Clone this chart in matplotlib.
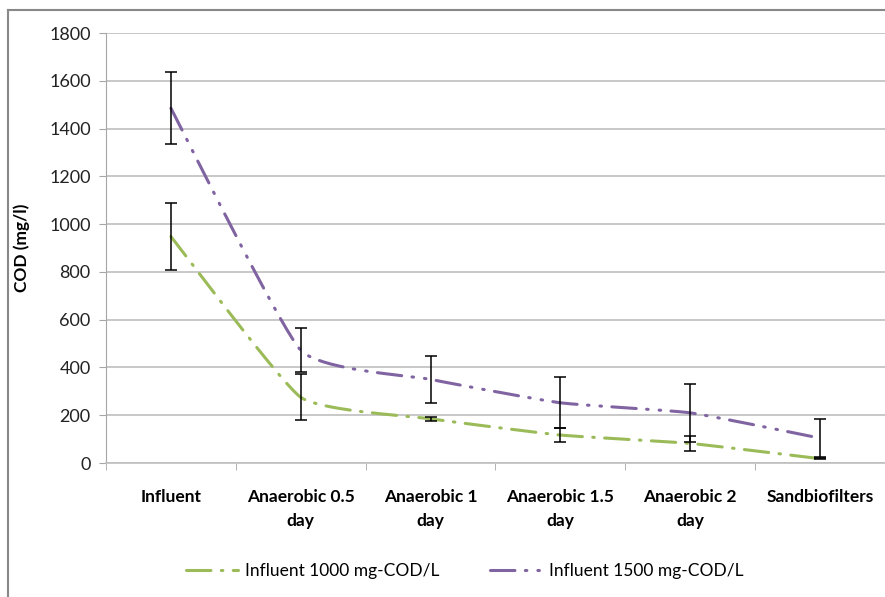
import matplotlib
matplotlib.use("Agg")
import matplotlib.pyplot as plt
import numpy as np

plt.rcParams['font.family'] = ['Lato', 'DejaVu Sans']

stages = ["Influent", "Anaerobic 0.5\nday", "Anaerobic 1\nday", "Anaerobic 1.5\nday",
          "Anaerobic 2\nday", "Sandbiofilters"]
cod_1000 = [948, 275, 185, 117, 82, 18]
err_1000 = [140, 97, 9, 31, 30, 2]
cod_1500 = [1485, 472, 350, 252, 210, 104]
err_1500 = [150, 93, 97, 106, 120, 80]


def smooth(y, s=0.45, n=40):
    # hermite curve through the points, softened tangents (close to Excel's smoothed line)
    y = np.asarray(y, float)
    m = len(y)
    x = np.arange(m, dtype=float)
    ty = np.array([(y[min(i + 1, m - 1)] - y[max(i - 1, 0)]) / 2 for i in range(m)]) * s
    tx = np.array([(x[min(i + 1, m - 1)] - x[max(i - 1, 0)]) / 2 for i in range(m)]) * s
    xs, ys = [], []
    t = np.linspace(0, 1, n)
    h00 = 2 * t ** 3 - 3 * t ** 2 + 1
    h10 = t ** 3 - 2 * t ** 2 + t
    h01 = -2 * t ** 3 + 3 * t ** 2
    h11 = t ** 3 - t ** 2
    for i in range(m - 1):
        xs.extend(h00 * x[i] + h10 * tx[i] + h01 * x[i + 1] + h11 * tx[i + 1])
        ys.extend(h00 * y[i] + h10 * ty[i] + h01 * y[i + 1] + h11 * ty[i + 1])
    return np.array(xs), np.array(ys)


fig = plt.figure(figsize=(8.85, 5.97), dpi=100)
ax = fig.add_axes([106 / 885, 134 / 597, 779 / 885, 430 / 597])

green = '#9BBB59'
purple = '#8064A2'
pos = np.arange(len(stages))

gx, gy = smooth(cod_1000)
px, py = smooth(cod_1500)
ax.plot(gx, gy, color=green, lw=2.2, dashes=(8.0, 3.4, 0.5, 3.4), dash_capstyle='round',
        label='Influent 1000 mg-COD/L', zorder=3)
ax.plot(px, py, color=purple, lw=2.2, dashes=(8.0, 3.4, 0.5, 3.6, 0.5, 3.4), dash_capstyle='round',
        label='Influent 1500 mg-COD/L', zorder=3)

ax.errorbar(pos, cod_1000, yerr=err_1000, fmt='none', ecolor='black', elinewidth=1.1,
            capsize=4.5, capthick=1.1, zorder=4)
ax.errorbar(pos, cod_1500, yerr=err_1500, fmt='none', ecolor='black', elinewidth=1.1,
            capsize=4.5, capthick=1.1, zorder=4)

ax.set_xlim(-0.5, len(stages) - 0.5)
ax.set_ylim(0, 1800)
ax.set_yticks(np.arange(0, 1801, 200))
ax.set_xticks(pos)
ax.set_xticklabels(stages, fontweight='bold', fontsize=12.5, linespacing=1.55)
ax.set_xticks(np.arange(-0.5, len(stages)), minor=True)
ax.tick_params(axis='x', which='major', length=0, pad=19)
ax.tick_params(axis='x', which='minor', length=5, color='#A6A6A6', direction='out')
ax.tick_params(axis='y', length=5, color='#A6A6A6', labelsize=13, pad=6, labelcolor='#222222')
ax.grid(axis='y', color='#BFBFBF', lw=1.2)
ax.set_axisbelow(True)
for s in ['top', 'right']:
    ax.spines[s].set_visible(False)
ax.spines['left'].set_color('#A6A6A6')
ax.spines['bottom'].set_color('#BFBFBF')
ax.spines['bottom'].set_linewidth(1.2)
ax.set_ylabel('COD (mg/l)', fontweight='bold', fontsize=12.5, labelpad=10)
ax.yaxis.set_label_coords(-0.097, 0.5)

leg = fig.legend(loc='center', bbox_to_anchor=(0.525, 1 - 571 / 597), ncol=2, frameon=False,
                 fontsize=12.5, handlelength=3.0, columnspacing=2.9, handletextpad=0.4)

# outer chart border
fig.add_artist(plt.Line2D([8 / 885, 8 / 885], [0, 1 - 10 / 597], color='#888888', lw=1.5,
                          transform=fig.transFigure))
fig.add_artist(plt.Line2D([8 / 885, 1], [1 - 10 / 597, 1 - 10 / 597], color='#888888', lw=1.5,
                          transform=fig.transFigure))

fig.savefig('out.png', dpi=100)
